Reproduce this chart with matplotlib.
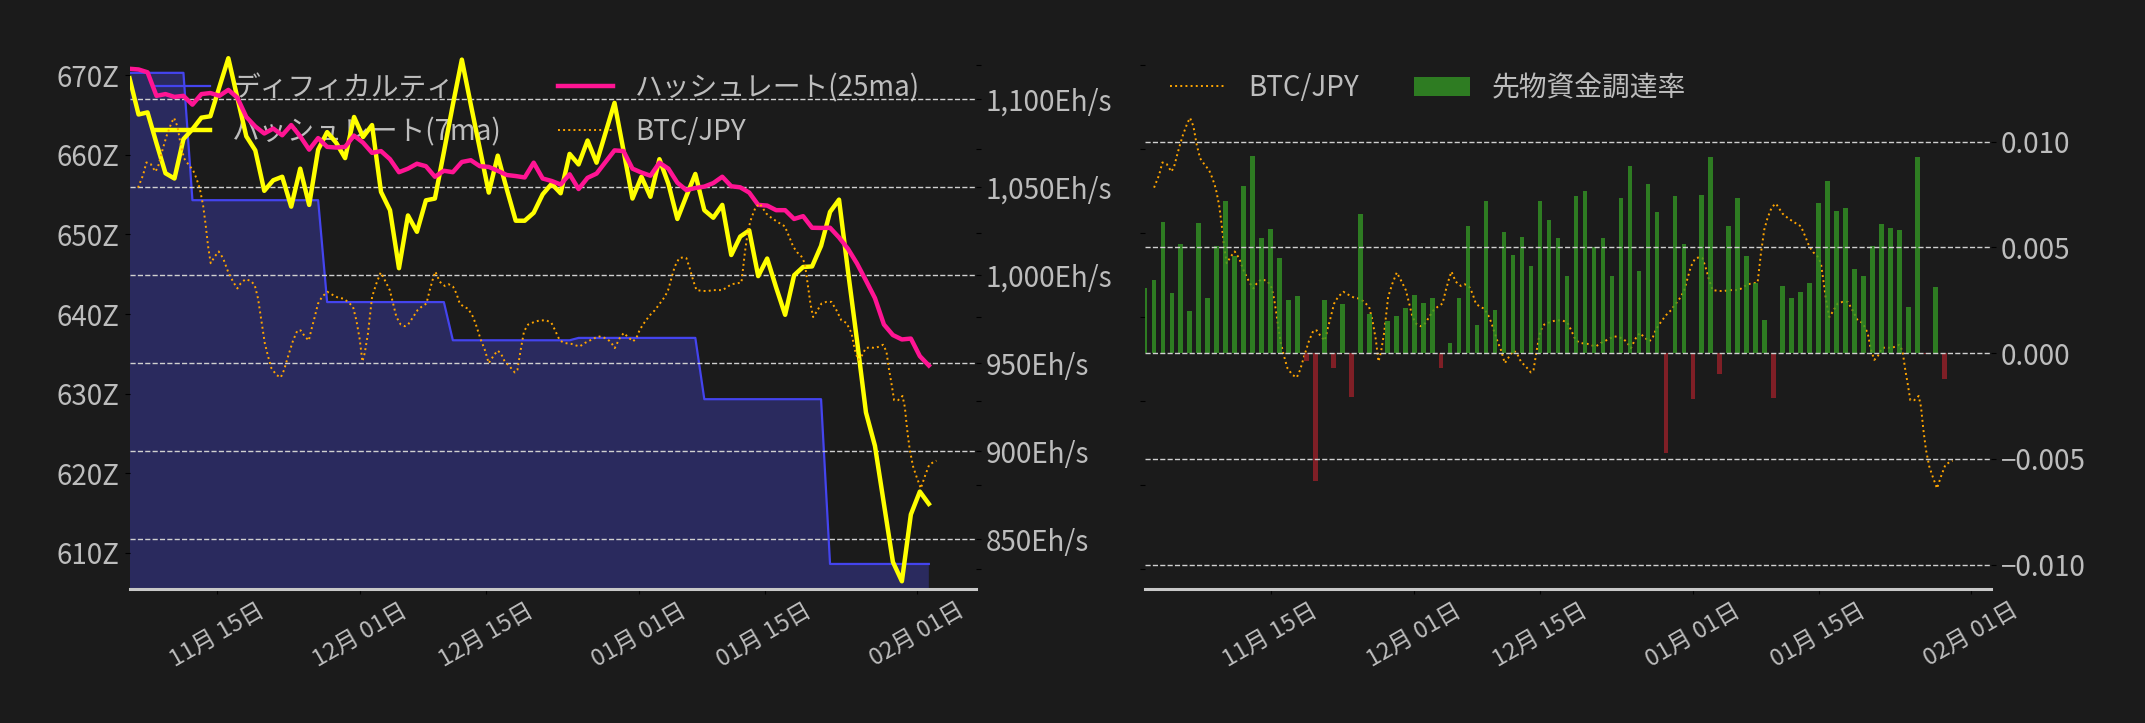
import matplotlib
matplotlib.use("Agg")
import matplotlib.pyplot as plt
import matplotlib.dates as mdates
from matplotlib.ticker import MultipleLocator, FuncFormatter
import pandas as pd

plt.rcParams['font.family'] = ['Noto Sans CJK JP', 'DejaVu Sans']

BG = '#1b1b1b'
FG = '#bdbdbd'

# ---- ディフィカルティ / ハッシュレート (日次) ----
hash_start = pd.Timestamp('2025-11-05 07:00')
difficulty = [
    670.3, 670.3, 670.3, 670.3, 670.3, 670.3, 670.3,
    654.3, 654.3, 654.3, 654.3, 654.3, 654.3, 654.3, 654.3, 654.3, 654.3,
    654.3, 654.3, 654.3, 654.3, 654.3,
    641.5, 641.5, 641.5, 641.5, 641.5, 641.5, 641.5, 641.5, 641.5, 641.5,
    641.5, 641.5, 641.5, 641.5,
    636.7, 636.7, 636.7, 636.7, 636.7, 636.7, 636.7, 636.7, 636.7, 636.7,
    636.7, 636.7, 636.7, 636.7,
    637.0, 637.0, 637.0, 637.0, 637.0, 637.0, 637.0, 637.0, 637.0, 637.0,
    637.0, 637.0, 637.0, 637.0,
    629.3, 629.3, 629.3, 629.3, 629.3, 629.3, 629.3, 629.3, 629.3, 629.3,
    629.3, 629.3, 629.3, 629.3,
    608.6, 608.6, 608.6, 608.6, 608.6, 608.6, 608.6, 608.6, 608.6, 608.6,
    608.6, 608.6,
]
hash_7ma = [
    1112, 1091.4, 1092.6, 1075, 1058, 1055, 1077.4, 1083, 1089.6, 1090.4,
    1107, 1123.4, 1101, 1079, 1071, 1048, 1054, 1056, 1039, 1060.6,
    1040, 1071.4, 1081.4, 1075.4, 1066.6, 1090, 1078.6, 1085.4, 1047.4, 1037,
    1004, 1034, 1024.7, 1042.6, 1043.6, 1070, 1097, 1122.6, 1097, 1072,
    1047, 1068, 1049, 1031, 1031, 1035.5, 1046, 1052, 1046.6, 1069,
    1063, 1076.6, 1064, 1081, 1098, 1071, 1043.6, 1056, 1044.6, 1066,
    1052, 1032, 1045, 1057.6, 1037, 1032.7, 1040, 1011.5, 1022, 1025.5,
    999.5, 1009.5, 993, 977.5, 1000, 1004.7, 1005, 1016.7, 1036, 1043,
    1002.3, 963, 922, 903, 870, 837, 826, 864, 877, 870,
]
hash_25ma = [
    1117.4, 1117, 1115.4, 1102, 1103, 1101.4, 1102, 1097, 1103, 1103.6,
    1102, 1105.4, 1101, 1090, 1084.6, 1080.6, 1083.4, 1079.6, 1085.4, 1079,
    1071.4, 1078, 1073, 1072.6, 1073, 1079.4, 1075.4, 1069.6, 1070.6, 1066,
    1058.6, 1060.6, 1063.4, 1062, 1056, 1059.4, 1058.6, 1064.4, 1065.4, 1062,
    1061.6, 1059.4, 1057, 1056.4, 1055.6, 1064, 1055, 1053.6, 1051.6, 1057.4,
    1049, 1055.4, 1057.8, 1064.4, 1071, 1070.6, 1060.6, 1058.4, 1056.6, 1064,
    1060.6, 1052.6, 1048.4, 1049.6, 1050.4, 1052.4, 1056, 1050.6, 1050, 1047,
    1040, 1039.6, 1037, 1037, 1032, 1033.6, 1027, 1026.9, 1027, 1021.5,
    1015, 1006.7, 997, 987, 972, 966, 963.5, 964, 954, 948.7,
]

# ---- BTC/JPY (11/01 からの経過日, 万円) ----
btc_base = pd.Timestamp('2025-11-01')
btc_day = [
    1.03, 1.59, 1.96, 2.44, 2.96, 3.26, 3.70, 4.19, 4.74, 5.04, 5.41, 5.78, 6.15, 6.67, 7.15,
    7.53, 7.90, 8.27, 8.53, 8.83, 9.12, 9.57, 10.01, 10.50, 11.05, 11.61, 12.09, 12.46, 12.98,
    13.58, 14.02, 14.39, 14.76, 15.14, 15.51, 15.88, 16.44, 16.92, 17.29, 17.73, 18.29, 18.77,
    19.14, 19.59, 20.04, 20.33, 20.70, 21.07, 21.52, 22.11, 22.75, 23.30, 23.86, 24.42, 24.97,
    25.34, 25.72, 26.01, 26.27, 26.64, 27.09, 27.57, 28.05, 28.50, 29.06, 29.43, 29.80, 30.28,
    30.73, 31.10, 31.54, 32.14, 32.58, 33.14, 33.51, 33.88, 34.14, 34.62, 35.18, 35.63, 36.11,
    36.48, 36.85, 37.33, 37.78, 38.34, 38.71, 39.19, 39.64, 40.08, 40.56, 41.05, 41.42, 41.86,
    42.42, 42.98, 43.27, 43.64, 44.01, 44.46, 45.13, 45.76, 46.50, 47.06, 47.43, 47.99, 48.54,
    49.29, 49.84, 50.21, 50.77, 51.51, 52.26, 52.81, 53.37, 53.74, 54.11, 54.67, 55.11, 55.60,
    56.15, 56.52, 56.90, 57.45, 58.01, 58.57, 59.12, 59.68, 60.05, 60.42, 60.79, 61.28, 61.72,
    62.09, 62.46, 62.83, 63.21, 63.95, 64.50, 65.06, 65.62, 66.10, 66.55, 67.10, 67.66, 68.22,
    68.59, 68.96, 69.33, 69.81, 70.26, 70.63, 71.00, 71.56, 72.11, 72.56, 73.04, 73.52, 73.97,
    74.42, 74.90, 75.27, 75.64, 75.90, 76.20, 76.57, 77.13, 77.68, 78.24, 78.80, 79.35, 79.91,
    80.47, 80.84, 81.21, 81.58, 82.06, 82.58, 83.06, 83.62, 83.99, 84.36, 84.66, 84.92, 85.22,
    85.66, 86.15, 86.41, 86.67, 86.96, 87.33, 87.71, 88.19, 88.63, 89.12, 89.56, 89.93,
]
btc_man = [
    1654, 1669, 1684, 1682, 1673, 1679, 1697, 1715, 1731, 1737, 1727, 1705, 1689, 1681, 1675,
    1665, 1653, 1633, 1612, 1584, 1564, 1572, 1578, 1570, 1554, 1542, 1534, 1540, 1545,
    1543, 1538, 1522, 1496, 1469, 1453, 1439, 1431, 1428, 1437, 1453, 1472, 1484,
    1484, 1477, 1472, 1485, 1500, 1516, 1524, 1530, 1526, 1523, 1522, 1518, 1512,
    1496, 1473, 1447, 1457, 1481, 1524, 1540, 1553, 1544, 1532, 1516, 1500, 1491,
    1489, 1491, 1498, 1508, 1512, 1516, 1532, 1546, 1554, 1542, 1537, 1539, 1536,
    1528, 1516, 1512, 1510, 1500, 1489, 1473, 1461, 1445, 1453, 1460, 1457, 1447,
    1441, 1434, 1437, 1461, 1483, 1491, 1494, 1496, 1496, 1493, 1485, 1472, 1469,
    1468, 1466, 1465, 1469, 1473, 1477, 1476, 1473, 1469, 1463, 1475, 1481, 1476,
    1471, 1475, 1485, 1494, 1502, 1508, 1516, 1524, 1532, 1546, 1560, 1570, 1571,
    1570, 1558, 1544, 1532, 1531, 1531, 1532, 1532, 1532, 1535, 1539, 1540, 1541,
    1576, 1604, 1618, 1631, 1635, 1629, 1623, 1618, 1614, 1611, 1608, 1596, 1584,
    1577, 1572, 1564, 1536, 1516, 1500, 1506, 1516, 1518, 1518, 1508, 1496, 1493,
    1481, 1461, 1449, 1453, 1463, 1464, 1463, 1465, 1467, 1459, 1437, 1421, 1401,
    1401, 1406, 1393, 1366, 1342, 1322, 1310, 1296, 1310, 1324, 1327, 1329,
]
# 左図の BTC/JPY は元図で約4.2日ずれて描かれている
btc_lag_left = pd.Timedelta(hours=101)

# ---- 先物資金調達率 (日次, 11/01〜) ----
fund_start = pd.Timestamp('2025-11-01')
funding = [
    0.00309, 0.00346, 0.00620, 0.00285, 0.00517, 0.00200, 0.00616, 0.00261, 0.00507, 0.00720,
    0.00460, 0.00791, 0.00932, 0.00545, 0.00587, 0.00450, 0.00252, 0.00271, -0.00035, -0.00606,
    0.00252, -0.00072, 0.00233, -0.00205, 0.00658, 0.00186, 0.0, 0.00153, 0.00176, 0.00214,
    0.00276, 0.00238, 0.00261, -0.00068, 0.00049, 0.00261, 0.00602, 0.00134, 0.00720, 0.00205,
    0.00573, 0.00465, 0.00550, 0.00413, 0.00720, 0.00630, 0.00545, 0.00365, 0.00743, 0.00767,
    0.00501, 0.00545, 0.00365, 0.00734, 0.00885, 0.00389, 0.00800, 0.00668, -0.00472, 0.00743,
    0.00517, -0.00217, 0.00748, 0.00928, -0.00099, 0.00602, 0.00734, 0.00460, 0.00332, 0.00157,
    -0.00213, 0.00318, 0.00261, 0.00290, 0.00332, 0.00710, 0.00814, 0.00672, 0.00687, 0.00398,
    0.00365, 0.00507, 0.00611, 0.00592, 0.00583, 0.00219, 0.00928, -0.00005, 0.00313, -0.00120,
]

hash_dates = pd.date_range(hash_start, periods=len(difficulty), freq='D')
btc_dates = btc_base + pd.to_timedelta(btc_day, unit='D')
fund_dates = pd.date_range(fund_start, periods=len(funding), freq='D')
fund_colors = ['#339525' if v >= 0 else '#992129' for v in funding]

fig = plt.figure(figsize=(21.45, 7.23), dpi=100, facecolor=BG)
ax = fig.add_axes([0.0604, 0.1853, 0.3946, 0.7483], facecolor=BG)
bx = fig.add_axes([0.5338, 0.1853, 0.3944, 0.7483], facecolor=BG)


def style_base(a):
    for s in ['top', 'left', 'right']:
        a.spines[s].set_visible(False)
    a.spines['bottom'].set_color('#c8c8c8')
    a.spines['bottom'].set_linewidth(2.2)
    a.xaxis.set_major_locator(mdates.DayLocator(bymonthday=[1, 15]))
    a.xaxis.set_major_formatter(mdates.DateFormatter('%m月 %d日'))
    a.tick_params(axis='x', colors='black', labelcolor=FG, labelsize=17, labelrotation=30)


def hide_spines(a):
    for s in a.spines.values():
        s.set_visible(False)


# ---- 左: ディフィカルティ / ハッシュレート ----
ax.fill_between(hash_dates, difficulty, 0, color='#2a2a5e', linewidth=0)
l1, = ax.plot(hash_dates, difficulty, color='#4444ee', lw=1.6, label='ディフィカルティ')
ax.set_ylim(605.45, 673.42)
ax.yaxis.set_major_locator(MultipleLocator(10))
ax.yaxis.set_major_formatter(FuncFormatter(lambda v, p: f'{v:.0f}Z'))
ax.tick_params(axis='y', colors='black', labelcolor=FG, labelsize=20)
style_base(ax)
ax.set_xlim(hash_start, hash_start + pd.Timedelta(days=94.25))

ax2 = ax.twinx()
hide_spines(ax2)
l2, = ax2.plot(hash_dates, hash_7ma, color='#ffff00', lw=3.2, label='ハッシュレート(7ma)')
l3, = ax2.plot(hash_dates, hash_25ma, color='#ff1493', lw=3.2, label='ハッシュレート(25ma)')
ax2.set_ylim(821.6, 1129.2)
ax2.yaxis.set_major_locator(MultipleLocator(50))
ax2.yaxis.set_major_formatter(FuncFormatter(lambda v, p: f'{v:,.0f}Eh/s'))
ax2.tick_params(axis='y', colors='black', labelcolor=FG, labelsize=20)
ax2.grid(axis='y', color='#d0d0d0', ls='--', lw=1.0)

ax3 = ax.twinx()
hide_spines(ax3)
l4, = ax3.plot(btc_dates + btc_lag_left, btc_man, color='orange', lw=1.4, ls=':', label='BTC/JPY')
ax3.set_ylim(1176.2, 1820.2)
ax3.yaxis.set_major_locator(MultipleLocator(100))
ax3.tick_params(axis='y', colors='black', labelright=False)

ax.legend(handles=[l1, l2, l3, l4], loc='upper left', ncol=2, frameon=False,
          fontsize=20, labelcolor=FG)

# ---- 右: BTC/JPY と 先物資金調達率 ----
b1, = bx.plot(btc_dates, btc_man, color='orange', lw=1.4, ls=':', label='BTC/JPY')
bx.set_ylim(1176.2, 1820.2)
bx.yaxis.set_major_locator(MultipleLocator(100))
bx.tick_params(axis='y', colors='black', labelleft=False)
style_base(bx)
bx.set_xlim(fund_start + pd.Timedelta(minutes=30), fund_start + pd.Timedelta(days=94.2))

bx2 = bx.twinx()
hide_spines(bx2)
bars = bx2.bar(fund_dates, funding, width=0.5, color=fund_colors, alpha=0.8, label='先物資金調達率')
bx2.set_ylim(-0.01115, 0.01443)
bx2.yaxis.set_major_locator(MultipleLocator(0.005))
bx2.yaxis.set_major_formatter(FuncFormatter(lambda v, p: f'{v:.3f}'.replace('-', '\u2212')))
bx2.tick_params(axis='y', colors='black', labelcolor=FG, labelsize=20)
bx2.grid(axis='y', color='#d0d0d0', ls='--', lw=1.0)

bx.legend(handles=[b1, bars], loc='upper left', ncol=2, frameon=False,
          fontsize=20, labelcolor=FG)

fig.savefig('out.png', dpi=100, facecolor=BG)
